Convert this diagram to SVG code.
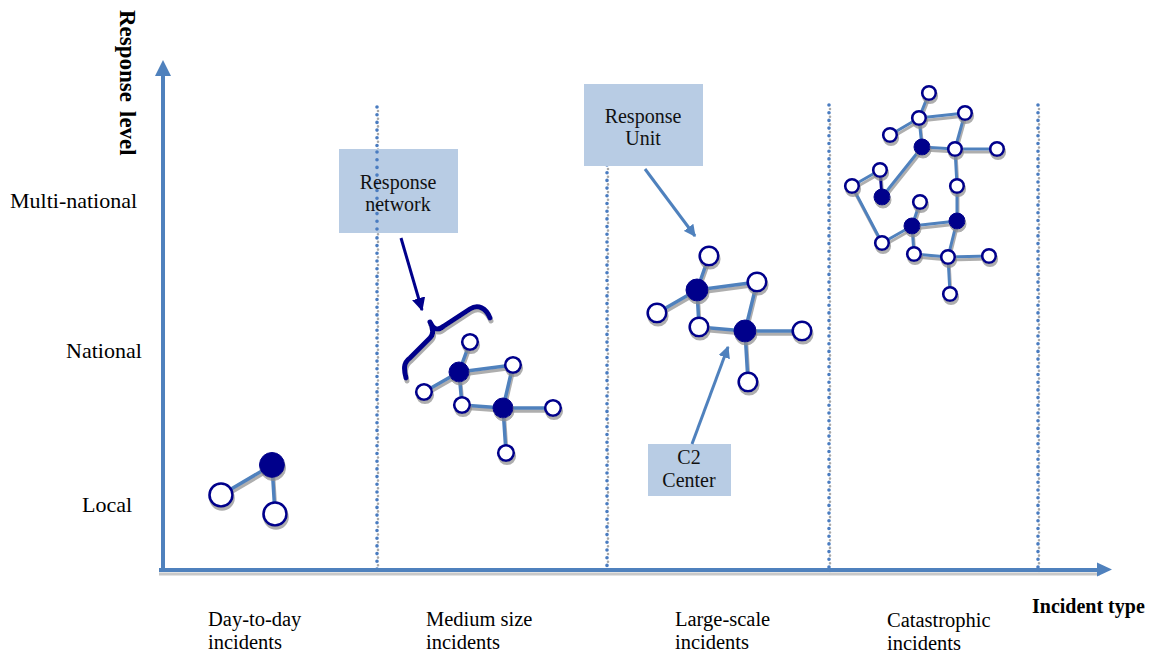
<svg xmlns="http://www.w3.org/2000/svg" width="1156" height="656" viewBox="0 0 1156 656">
  <defs>
    <filter id="shadow" x="-30%" y="-30%" width="160%" height="160%">
      <feDropShadow dx="1" dy="3" stdDeviation="0.7" flood-color="#8c8c8c" flood-opacity="0.7"/>
    </filter>
    <marker id="arrowBlue" viewBox="0 0 10 10" refX="9" refY="5" markerWidth="4" markerHeight="4" markerUnits="strokeWidth" orient="auto">
      <path d="M0,0 L10,5 L0,10 z" fill="#4f81bd"/>
    </marker>
    <marker id="arrowNavy" viewBox="0 0 10 10" refX="9" refY="5" markerWidth="4.5" markerHeight="4.5" markerUnits="strokeWidth" orient="auto">
      <path d="M0,0 L10,5 L0,10 z" fill="#00008b"/>
    </marker>
  </defs>
  <style>
    .axis { stroke: #4f81bd; stroke-width: 4; fill: none; }
    .axisShadow { stroke: #c8c8c8; stroke-width: 3; fill: none; }
    .divider { stroke: #4a7cc0; stroke-width: 3.6; stroke-linecap: round; stroke-dasharray: 0 7.7; fill: none; }
    .dividerShadow { stroke: #a8a8a8; stroke-width: 2.6; stroke-linecap: round; stroke-dasharray: 0 7.7; fill: none; }
    .label { font-family: "Liberation Serif", "Times New Roman", serif; fill: #000; }
    .lvl { font-size: 22px; }
    .cat { font-size: 20.5px; }
    .title { font-size: 20px; font-weight: bold; }
    .box { fill: #b8cce4; }
    .boxText { font-family: "Liberation Serif", "Times New Roman", serif; font-size: 20px; fill: #111; text-anchor: middle; }
    .edge { stroke: #4f81bd; stroke-width: 3.5; stroke-linecap: round; fill: none; }
    .edgeThin { stroke: #4f81bd; stroke-width: 3; stroke-linecap: round; fill: none; }
    .open { fill: #fff; stroke: #00008b; stroke-width: 2.6; }
    .hub { fill: #00008b; stroke: #00008b; stroke-width: 1; }
    .pointer { stroke: #4f81bd; stroke-width: 3; fill: none; }
  </style>

  <rect width="1156" height="656" fill="#fff"/>

  <!-- category dividers -->
  <g id="dividers">
    <line class="dividerShadow" x1="378" y1="111" x2="378" y2="572"/>
    <line class="divider" x1="377" y1="107" x2="377" y2="570"/>
    <line class="dividerShadow" x1="608" y1="169" x2="608" y2="572"/>
    <line class="divider" x1="607" y1="165" x2="607" y2="570"/>
    <line class="dividerShadow" x1="830" y1="109" x2="830" y2="572"/>
    <line class="divider" x1="829" y1="105" x2="829" y2="570"/>
    <line class="dividerShadow" x1="1039" y1="109" x2="1039" y2="572"/>
    <line class="divider" x1="1038" y1="105" x2="1038" y2="570"/>
  </g>

  <!-- axes -->
  <g id="axes">
    <line class="axisShadow" x1="159" y1="574" x2="1100" y2="574"/>
    <line class="axis" x1="159" y1="570" x2="1098" y2="570"/>
    <path d="M1097,562.5 L1112,569.5 L1097,576.5 z" fill="#4f81bd"/>
    <line class="axis" x1="163" y1="572" x2="163" y2="74"/>
    <path d="M155,76 L163,60 L171,76 z" fill="#4f81bd"/>
  </g>

  <!-- axis titles and tick labels -->
  <g id="labels">
    <text class="label title" transform="translate(120,10) rotate(90)" style="font-size:23px">Response<tspan dx="9">level</tspan></text>
    <text class="label lvl" x="10" y="208">Multi-national</text>
    <text class="label lvl" x="66" y="358">National</text>
    <text class="label lvl" x="82" y="512">Local</text>
    <text class="label cat" x="208" y="626">Day-to-day</text>
    <text class="label cat" x="208" y="649">incidents</text>
    <text class="label cat" x="426" y="626">Medium size</text>
    <text class="label cat" x="426" y="649">incidents</text>
    <text class="label cat" x="675" y="626">Large-scale</text>
    <text class="label cat" x="675" y="649">incidents</text>
    <text class="label cat" x="887" y="627">Catastrophic</text>
    <text class="label cat" x="887" y="650">incidents</text>
    <text class="label title" x="1032" y="613">Incident type</text>
  </g>

  <!-- callout boxes -->
  <g id="box-network">
    <rect class="box" x="339" y="149" width="119" height="84"/>
    <line class="divider" x1="377" y1="152" x2="377" y2="232"/>
    <text class="boxText" x="398" y="189">Response</text>
    <text class="boxText" x="398" y="211">network</text>
  </g>
  <g id="box-unit">
    <rect class="box" x="584" y="84" width="119" height="82"/>
    <text class="boxText" x="643" y="123">Response</text>
    <text class="boxText" x="643" y="145">Unit</text>
  </g>
  <g id="box-c2">
    <rect class="box" x="648" y="444" width="83" height="52"/>
    <text class="boxText" x="689" y="464">C2</text>
    <text class="boxText" x="689" y="487">Center</text>
  </g>

  <!-- callout pointers -->
  <g id="pointers">
    <line x1="401" y1="238" x2="422" y2="310" stroke="#00008b" stroke-width="3" marker-end="url(#arrowNavy)"/>
    <path d="M406,378 C404,370 403,363 410,358 L430,338 C434,334 433,328 430,322 C434,330 438,331 444,326 L470,309 C478,304 486,308 490,318"
          stroke="#00008b" stroke-width="5" fill="none" stroke-linecap="round" stroke-linejoin="round" filter="url(#shadow)"/>
    <line class="pointer" x1="645" y1="169" x2="695" y2="236" marker-end="url(#arrowBlue)"/>
    <line class="pointer" x1="692" y1="444" x2="728" y2="347" marker-end="url(#arrowBlue)"/>
  </g>

  <!-- connectors -->
  <g id="connectors" filter="url(#shadow)">
    <!-- day-to-day -->
    <line class="edge" x1="272" y1="465" x2="221" y2="495"/>
    <line class="edge" x1="272" y1="465" x2="275" y2="514"/>
    <!-- medium size -->
    <line class="edge" x1="459" y1="372" x2="470" y2="342"/>
    <line class="edge" x1="459" y1="372" x2="424" y2="392"/>
    <line class="edge" x1="459" y1="372" x2="462" y2="405"/>
    <line class="edge" x1="459" y1="372" x2="513" y2="365"/>
    <line class="edge" x1="513" y1="365" x2="503" y2="408"/>
    <line class="edge" x1="462" y1="405" x2="503" y2="408"/>
    <line class="edge" x1="503" y1="408" x2="553" y2="408"/>
    <line class="edge" x1="503" y1="408" x2="506" y2="453"/>
    <!-- large-scale -->
    <line class="edge" x1="697" y1="290" x2="709" y2="256"/>
    <line class="edge" x1="697" y1="290" x2="657" y2="313"/>
    <line class="edge" x1="697" y1="290" x2="699" y2="327"/>
    <line class="edge" x1="697" y1="290" x2="757" y2="282"/>
    <line class="edge" x1="757" y1="282" x2="745" y2="331"/>
    <line class="edge" x1="699" y1="327" x2="745" y2="331"/>
    <line class="edge" x1="745" y1="331" x2="802" y2="331"/>
    <line class="edge" x1="745" y1="331" x2="748" y2="382"/>
    <!-- catastrophic -->
    <line class="edgeThin" x1="929" y1="93" x2="919" y2="118"/>
    <line class="edgeThin" x1="919" y1="118" x2="890" y2="135"/>
    <line class="edgeThin" x1="919" y1="118" x2="965" y2="113"/>
    <line class="edgeThin" x1="919" y1="118" x2="922" y2="147"/>
    <line class="edgeThin" x1="965" y1="113" x2="955" y2="149"/>
    <line class="edgeThin" x1="922" y1="147" x2="955" y2="149"/>
    <line class="edgeThin" x1="955" y1="149" x2="997" y2="149"/>
    <line class="edgeThin" x1="955" y1="149" x2="957" y2="186"/>
    <line class="edgeThin" x1="957" y1="186" x2="957" y2="221"/>
    <line class="edgeThin" x1="922" y1="147" x2="882" y2="197"/>
    <line x1="880" y1="170" x2="882" y2="197" stroke="#00008b" stroke-width="3"/>
    <line class="edgeThin" x1="880" y1="170" x2="852" y2="186"/>
    <line class="edgeThin" x1="852" y1="186" x2="882" y2="243"/>
    <line class="edgeThin" x1="882" y1="243" x2="912" y2="226"/>
    <line class="edgeThin" x1="912" y1="226" x2="920" y2="202"/>
    <line class="edgeThin" x1="912" y1="226" x2="957" y2="221"/>
    <line class="edgeThin" x1="912" y1="226" x2="914" y2="254"/>
    <line class="edgeThin" x1="957" y1="221" x2="948" y2="257"/>
    <line class="edgeThin" x1="914" y1="254" x2="948" y2="257"/>
    <line class="edgeThin" x1="948" y1="257" x2="989" y2="256"/>
    <line class="edgeThin" x1="948" y1="257" x2="950" y2="294"/>
  </g>

  <!-- day-to-day nodes -->
  <g id="local-hub" filter="url(#shadow)"><circle class="hub" cx="272" cy="465" r="12.5"/></g>
  <g id="local-unit-1" filter="url(#shadow)"><circle class="open" cx="221" cy="495" r="11.5"/></g>
  <g id="local-unit-2" filter="url(#shadow)"><circle class="open" cx="275" cy="514" r="11.5"/></g>

  <!-- medium size nodes -->
  <g id="med-hub-1" filter="url(#shadow)"><circle class="hub" cx="459" cy="372" r="10"/></g>
  <g id="med-hub-2" filter="url(#shadow)"><circle class="hub" cx="503" cy="408" r="10"/></g>
  <g id="med-unit-1" filter="url(#shadow)"><circle class="open" cx="470" cy="342" r="7.8"/></g>
  <g id="med-unit-2" filter="url(#shadow)"><circle class="open" cx="424" cy="392" r="7.8"/></g>
  <g id="med-unit-3" filter="url(#shadow)"><circle class="open" cx="462" cy="405" r="7.8"/></g>
  <g id="med-unit-4" filter="url(#shadow)"><circle class="open" cx="513" cy="365" r="7.8"/></g>
  <g id="med-unit-5" filter="url(#shadow)"><circle class="open" cx="553" cy="408" r="7.8"/></g>
  <g id="med-unit-6" filter="url(#shadow)"><circle class="open" cx="506" cy="453" r="7.8"/></g>

  <!-- large-scale nodes -->
  <g id="large-hub-1" filter="url(#shadow)"><circle class="hub" cx="697" cy="290" r="11"/></g>
  <g id="large-hub-2" filter="url(#shadow)"><circle class="hub" cx="745" cy="331" r="11"/></g>
  <g id="large-unit-1" filter="url(#shadow)"><circle class="open" cx="709" cy="256" r="9.3"/></g>
  <g id="large-unit-2" filter="url(#shadow)"><circle class="open" cx="657" cy="313" r="9.3"/></g>
  <g id="large-unit-3" filter="url(#shadow)"><circle class="open" cx="699" cy="327" r="9.3"/></g>
  <g id="large-unit-4" filter="url(#shadow)"><circle class="open" cx="757" cy="282" r="9.3"/></g>
  <g id="large-unit-5" filter="url(#shadow)"><circle class="open" cx="802" cy="331" r="9.3"/></g>
  <g id="large-unit-6" filter="url(#shadow)"><circle class="open" cx="748" cy="382" r="9.3"/></g>

  <!-- catastrophic nodes -->
  <g id="cat-hub-1" filter="url(#shadow)"><circle class="hub" cx="922" cy="147" r="8"/></g>
  <g id="cat-hub-2" filter="url(#shadow)"><circle class="hub" cx="882" cy="197" r="8"/></g>
  <g id="cat-hub-3" filter="url(#shadow)"><circle class="hub" cx="912" cy="226" r="8"/></g>
  <g id="cat-hub-4" filter="url(#shadow)"><circle class="hub" cx="957" cy="221" r="8"/></g>
  <g id="cat-unit-1" filter="url(#shadow)"><circle class="open" cx="929" cy="93" r="6.8"/></g>
  <g id="cat-unit-2" filter="url(#shadow)"><circle class="open" cx="919" cy="118" r="6.8"/></g>
  <g id="cat-unit-3" filter="url(#shadow)"><circle class="open" cx="965" cy="113" r="6.8"/></g>
  <g id="cat-unit-4" filter="url(#shadow)"><circle class="open" cx="890" cy="135" r="6.8"/></g>
  <g id="cat-unit-5" filter="url(#shadow)"><circle class="open" cx="955" cy="149" r="6.8"/></g>
  <g id="cat-unit-6" filter="url(#shadow)"><circle class="open" cx="997" cy="149" r="6.8"/></g>
  <g id="cat-unit-7" filter="url(#shadow)"><circle class="open" cx="880" cy="170" r="6.8"/></g>
  <g id="cat-unit-8" filter="url(#shadow)"><circle class="open" cx="852" cy="186" r="6.8"/></g>
  <g id="cat-unit-9" filter="url(#shadow)"><circle class="open" cx="957" cy="186" r="6.8"/></g>
  <g id="cat-unit-10" filter="url(#shadow)"><circle class="open" cx="920" cy="202" r="6.8"/></g>
  <g id="cat-unit-11" filter="url(#shadow)"><circle class="open" cx="882" cy="243" r="6.8"/></g>
  <g id="cat-unit-12" filter="url(#shadow)"><circle class="open" cx="914" cy="254" r="6.8"/></g>
  <g id="cat-unit-13" filter="url(#shadow)"><circle class="open" cx="948" cy="257" r="6.8"/></g>
  <g id="cat-unit-14" filter="url(#shadow)"><circle class="open" cx="989" cy="256" r="6.8"/></g>
  <g id="cat-unit-15" filter="url(#shadow)"><circle class="open" cx="950" cy="294" r="6.8"/></g>
</svg>
